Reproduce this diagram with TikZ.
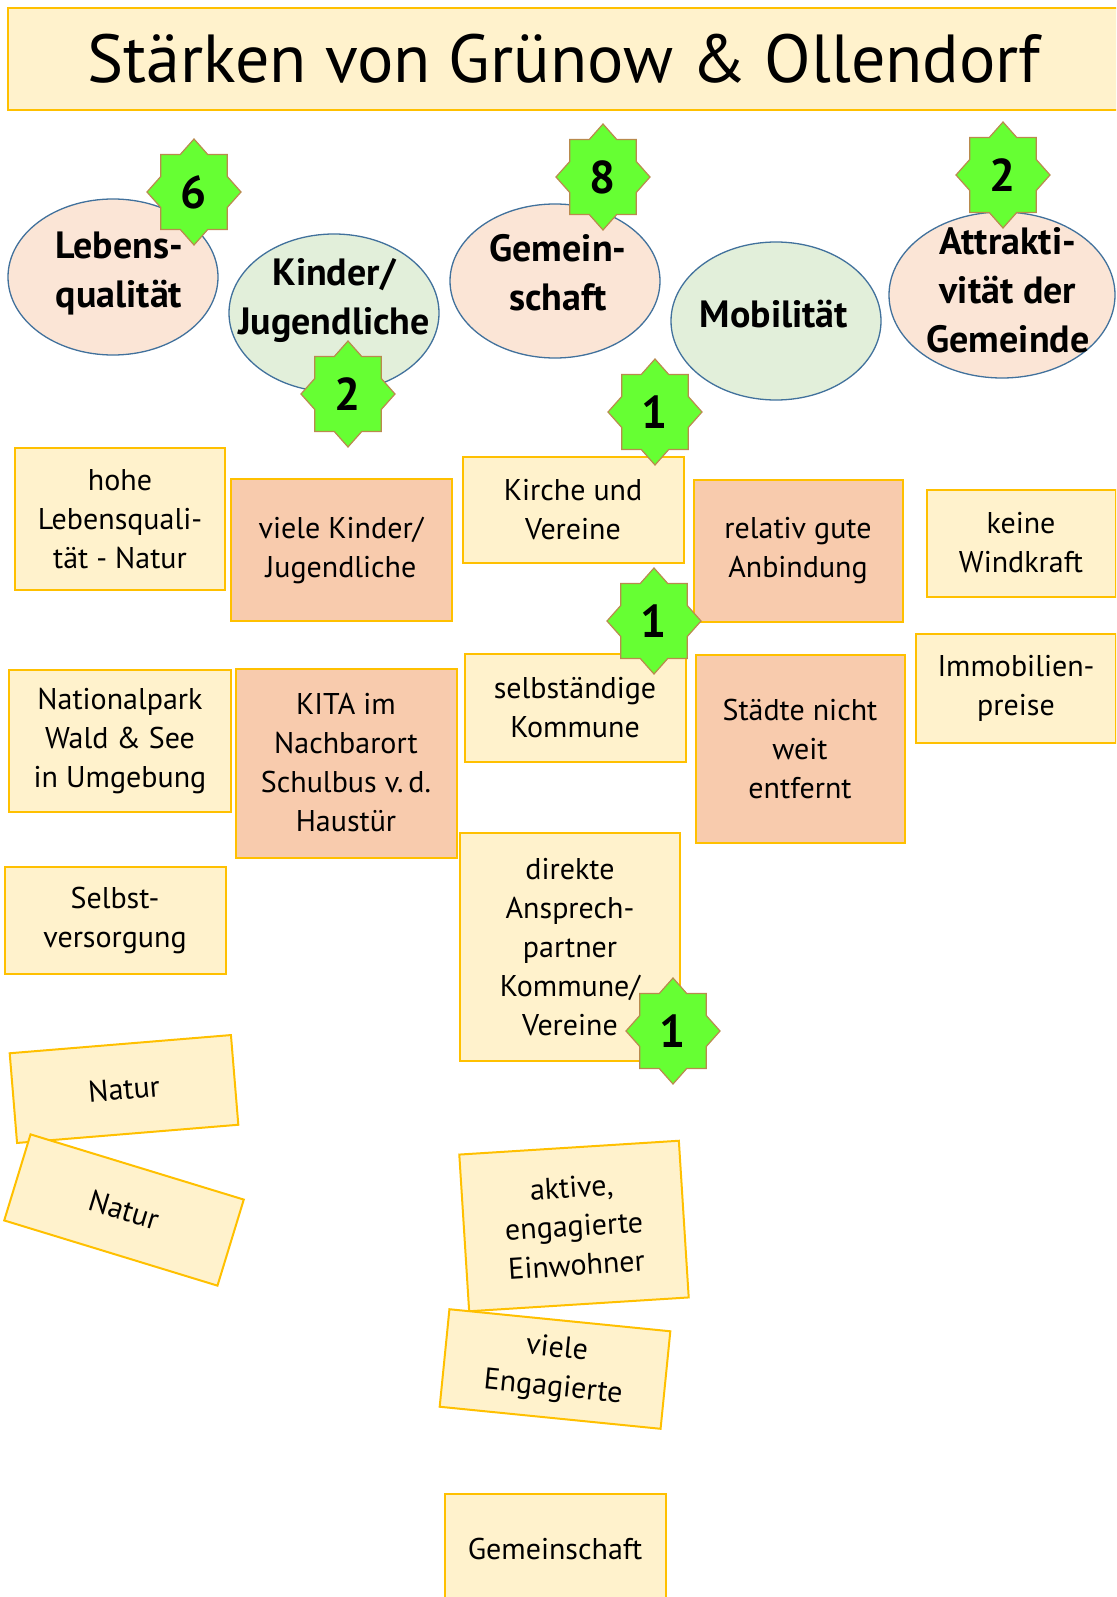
\documentclass[tikz,border=0pt]{standalone}
\usepackage{fontspec}
\setmainfont{PT Sans}
\usetikzlibrary{shapes.geometric}
\definecolor{boxy}{HTML}{FFF2CC}
\definecolor{boxs}{HTML}{F8CBAD}
\definecolor{gold}{HTML}{FFC000}
\definecolor{ellp}{HTML}{FBE5D6}
\definecolor{ellg}{HTML}{E2EFDA}
\definecolor{ellb}{HTML}{41719C}
\definecolor{stg}{HTML}{66FF33}
\definecolor{stb}{HTML}{B98A4E}
\tikzset{
  card/.style={draw=gold, line width=2pt, align=center, inner sep=0pt,
    font=\fontsize{30}{39}\selectfont},
  cardy/.style={card, fill=boxy},
  cards/.style={card, fill=boxs},
  oval/.style={ellipse, draw=ellb, line width=1.3pt, inner sep=0pt},
  ovalp/.style={oval, fill=ellp},
  ovalg/.style={oval, fill=ellg},
  ovaltext/.style={align=center, inner sep=0pt, font=\bfseries\fontsize{38}{49}\selectfont},
  starn/.style={star, star points=8, star point ratio=1.307, minimum size=106pt,
    inner sep=0pt, draw=stb, line width=1.2pt, fill=stg, xscale=0.887, transform shape},
  num/.style={inner sep=0pt, font=\bfseries\fontsize{46}{46}\selectfont},
}
\begin{document}
\begin{tikzpicture}[x=1pt,y=-1pt]
\useasboundingbox (0,0) rectangle (1116,1597);
\clip (0,0) rectangle (1116,1597);
% title
\node[cardy, minimum width=1112pt, minimum height=102pt, font=\fontsize{68}{72}\selectfont] (title) at (564,59) {Stärken von Grünow \& Ollendorf};
% ellipses
\node[ovalp, minimum width=210pt, minimum height=156pt] (e1) at (113,277) {};
\node[ovalg, minimum width=210pt, minimum height=158pt] (e2) at (334,313) {};
\node[ovalp, minimum width=210pt, minimum height=154pt] (e3) at (555,281) {};
\node[ovalg, minimum width=210pt, minimum height=158pt] (e4) at (776,321) {};
\node[ovalp, minimum width=226pt, minimum height=166pt] (e5) at (1002,295) {};
\node[ovaltext] (t1) at (119,273) {Lebens-\\qualität};
\node[ovaltext] (t2) at (334,300) {Kinder/\\Jugendliche};
\node[ovaltext] (t3) at (558,273) {Gemein-\\schaft};
\node[ovaltext] (t4) at (774,314) {Mobilität};
\node[ovaltext] (t5) at (1008,290) {Attrakti-\\vität der\\Gemeinde};
% cards
\node[cardy, minimum width=210pt, minimum height=142pt] (b1) at (120,519) {hohe\\Lebensquali-\\tät - Natur};
\node[cards, minimum width=221pt, minimum height=142pt] (b2) at (341,550) {viele Kinder/\\Jugendliche};
\node[cardy, minimum width=221pt, minimum height=106pt] (b3) at (573,510) {Kirche und\\Vereine};
\node[cards, minimum width=209pt, minimum height=142pt] (b4) at (798,551) {relativ gute\\Anbindung};
\node[cardy, minimum width=189pt, minimum height=107pt] (b5) at (1021,543) {keine\\Windkraft};
\node[cardy, minimum width=222pt, minimum height=142pt] (b6) at (120,741) {Nationalpark\\Wald \& See\\in Umgebung};
\node[cards, minimum width=221pt, minimum height=189pt] (b7) at (346,763) {KITA im\\Nachbarort\\Schulbus v.\,d.\\Haustür};
\node[cardy, minimum width=221pt, minimum height=108pt] (b8) at (575,708) {selbständige\\Kommune};
\node[cards, minimum width=209pt, minimum height=188pt] (b9) at (800,749) {Städte nicht\\weit\\entfernt};
\node[cardy, minimum width=200pt, minimum height=109pt] (b10) at (1016,688) {Immobilien-\\preise};
\node[cardy, minimum width=221pt, minimum height=107pt] (b11) at (115,920) {Selbst-\\versorgung};
\node[cardy, minimum width=220pt, minimum height=228pt] (b12) at (570,947) {direkte\\Ansprech-\\partner\\Kommune/\\Vereine};
\node[cardy, minimum width=222pt, minimum height=90pt, rotate=4.7] (b13) at (124,1089) {Natur};
\node[cardy, minimum width=223pt, minimum height=90pt, rotate=-17] (b14) at (124,1210) {Natur};
\node[cardy, minimum width=220pt, minimum height=157pt, rotate=3.6] (b15) at (574,1226) {aktive,\\engagierte\\Einwohner};
\node[cardy, minimum width=222pt, minimum height=98pt, rotate=-5.7] (b16) at (555,1369) {viele\\Engagierte};
\node[cardy, minimum width=221pt, minimum height=110pt] (b17) at (555,1549) {Gemeinschaft};
% stars
\node[starn] (s1) at (194,192) {};
\node[starn] (s2) at (348,394) {};
\node[starn] (s3) at (603,177) {};
\node[starn] (s4) at (1003,175) {};
\node[starn] (s5) at (655,412) {};
\node[starn] (s6) at (654,621) {};
\node[starn] (s7) at (673,1031) {};
\node[num] (n1) at (s1) {6};
\node[num] (n2) at (s2) {2};
\node[num] (n3) at (s3) {8};
\node[num] (n4) at (s4) {2};
\node[num] (n5) at (s5) {1};
\node[num] (n6) at (s6) {1};
\node[num] (n7) at (s7) {1};
\end{tikzpicture}
\end{document}
